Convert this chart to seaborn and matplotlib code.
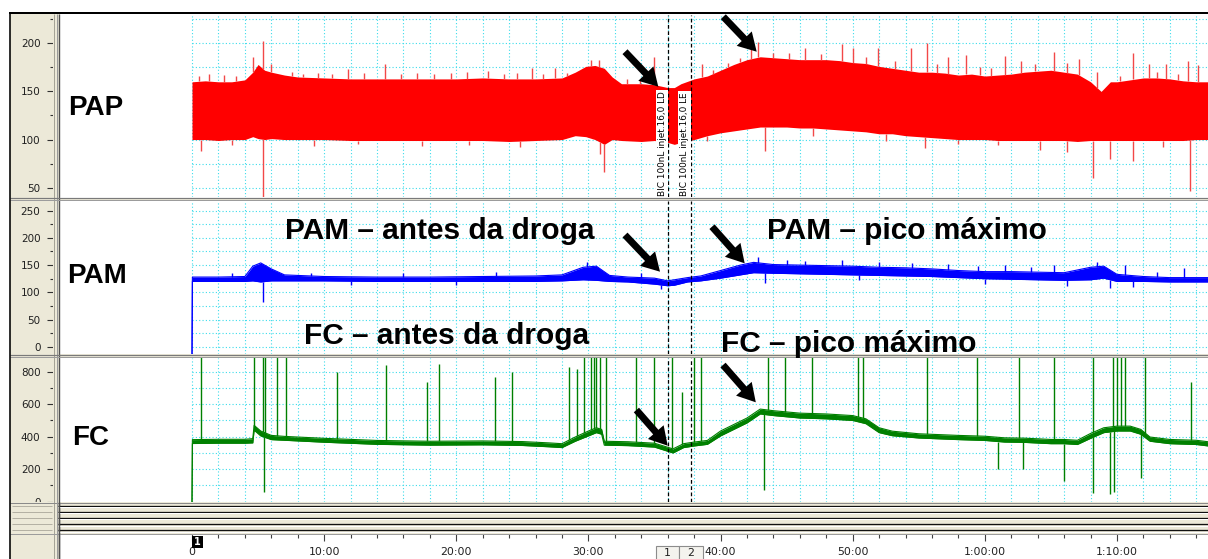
import numpy as np
import pandas as pd
import matplotlib
matplotlib.use("Agg")
import matplotlib.pyplot as plt
from matplotlib.patches import Rectangle, FancyArrowPatch, ArrowStyle
import seaborn as sns

sns.set_theme(style="white")
plt.rcParams["font.family"] = ["DejaVu Sans"]

# ---------------- recorded channels (time in minutes) ----------------
# PAP: pulsatile pressure, drawn as its envelope (min / max per moment)
pap_t = [0, 1, 2, 3, 4, 4.6, 5, 5.5, 6, 7, 8, 10, 12, 14, 16, 18, 20, 22, 24, 26,
         28, 29, 29.8, 30.5, 31.2, 31.8, 32.5, 34, 35, 36, 36.5, 37, 38, 39, 40, 41,
         42, 43, 44, 45, 46, 47, 48, 49, 50, 51, 52, 53, 54, 55, 56, 57, 58, 59, 60,
         61, 62, 63, 64, 65, 66, 67, 68, 68.8, 69.5, 70, 71, 72, 73, 74, 75, 76, 77]
pap_lo = [100, 100, 99, 100, 100, 103, 101, 100, 101, 100, 100, 100, 99, 99, 99, 99, 99, 99, 98, 99,
          100, 104, 103, 100, 95, 100, 99, 98, 99, 97, 95, 97, 100, 104, 107, 109,
          111, 113, 113, 113, 112, 112, 111, 110, 109, 108, 106, 106, 104, 103, 102, 101, 100, 100, 100,
          99, 99, 99, 99, 99, 99, 98, 99, 99, 99, 99, 99, 99, 99, 99, 99, 100, 100]
pap_hi = [160, 161, 160, 160, 162, 170, 178, 172, 170, 167, 165, 164, 163, 163, 163, 163, 163, 164, 163, 163,
          164, 170, 176, 177, 174, 165, 158, 158, 157, 154, 154, 158, 163, 166, 172, 178,
          183, 186, 185, 184, 183, 183, 183, 182, 180, 179, 176, 174, 172, 170, 170, 169, 167, 168, 166,
          167, 168, 170, 171, 172, 170, 168, 160, 150, 160, 160, 162, 164, 164, 163, 161, 160, 160]
pap_up_t = [0.5, 1.3, 2.4, 3.3, 4.6, 5.4, 6.0, 7.6, 8.4, 9.5, 10.6, 11.8, 13.0, 14.6, 15.8,
            17.0, 18.3, 19.6, 20.8, 22.4, 23.6, 24.6, 25.7, 26.6, 27.5, 28.4, 30.2, 30.8,
            32.9, 33.9, 35.0, 38.6, 39.4, 40.6, 41.5, 42.3, 42.8, 44.0, 45.2, 46.4, 47.6,
            49.2, 50.0, 51.0, 51.9, 53.2, 54.4, 55.6, 56.4, 57.2, 58.6, 59.6, 60.5, 61.5,
            62.7, 63.8, 65.2, 66.2, 67.1, 68.5, 70.2, 71.2, 72.4, 73.0, 73.7, 74.6, 75.4, 76.1]
pap_up_v = [166, 168, 167, 166, 186, 202, 178, 170, 168, 169, 168, 173, 169, 178, 168,
            169, 168, 169, 170, 171, 168, 169, 174, 168, 174, 169, 183, 183,
            163, 162, 186, 179, 172, 180, 185, 195, 201, 190, 190, 195, 189,
            199, 195, 186, 195, 182, 195, 200, 178, 186, 188, 175, 174, 187,
            182, 178, 191, 180, 184, 170, 166, 190, 179, 170, 179, 168, 182, 177]
pap_dn_t = [0.7, 3.0, 5.4, 9.2, 12.6, 17.4, 21.0, 24.8, 30.9, 31.2, 39.0, 43.4, 47.0,
            52.5, 55.5, 58.0, 61.0, 64.2, 66.2, 68.2, 69.5, 71.2, 73.5, 75.5]
pap_dn_v = [88, 94, 38, 93, 95, 93, 94, 92, 85, 66, 98, 88, 104,
            98, 91, 95, 94, 89, 87, 60, 80, 78, 92, 47]

# PAM: mean pressure
pam_t = [0, 0.03, 2, 4, 4.6, 5.2, 6, 7, 10, 14, 18, 22, 26, 28, 29.6, 30.6, 31.6, 33,
         35, 36, 36.5, 37.5, 38.5, 40, 41.5, 42.5, 44, 46, 48, 50, 52, 54, 56, 58, 60,
         62, 64, 66, 68, 69, 70, 72, 74, 76, 77]
pam_lo = [-20, 120, 120, 120, 121, 119, 121, 121, 121, 120, 120, 120, 120, 121, 123, 122, 120, 119,
          115, 112, 113, 119, 121, 126, 132, 136, 135, 134, 133, 132, 131, 130, 129, 127, 125,
          124, 123, 122, 123, 126, 120, 120, 119, 119, 119]
pam_hi = [-20, 128, 128, 129, 148, 154, 143, 132, 129, 128, 128, 129, 130, 132, 146, 148, 131, 128,
          126, 121, 123, 127, 130, 140, 150, 155, 151, 150, 149, 148, 146, 145, 143, 140, 138,
          138, 137, 136, 146, 148, 133, 129, 127, 127, 127]
pam_up_t = [3.0, 9.0, 16.0, 23.0, 29.9, 34.0, 42.8, 45.0, 46.4, 49.2, 52.0, 54.5, 57.2, 59.5,
            61.5, 63.5, 65.2, 68.5, 70.6, 73.0, 75.1]
pam_up_v = [136, 136, 136, 137, 156, 135, 165, 160, 158, 160, 156, 154, 152, 148,
            150, 147, 150, 156, 150, 138, 144]
pam_dn_t = [5.4, 12.0, 20.0, 35.5, 43.4, 50.5, 60.0, 66.2, 69.5, 71.2]
pam_dn_v = [83, 113, 113, 106, 118, 122, 116, 112, 108, 110]

# FC: heart rate
fc_t = [0, 0.03, 2, 4, 4.6, 4.7, 5.2, 6, 7, 10, 14, 18, 22, 25, 27, 28, 29, 30, 30.6, 31.0,
        31.2, 33, 35, 36.4, 37.2, 38, 39, 40, 41, 42, 43, 44, 46, 48, 50, 51, 52, 53, 55,
        58, 60, 61.5, 63, 65, 66, 67, 68, 69, 70, 71, 71.8, 72.5, 74, 76, 77]
fc_lo = [-10, 358, 360, 360, 362, 440, 405, 382, 378, 366, 353, 348, 350, 346, 338, 333, 372, 405, 425, 415,
         348, 345, 336, 300, 333, 343, 353, 405, 445, 485, 540, 530, 515, 510, 500, 480, 425, 406, 392,
         382, 377, 367, 365, 357, 357, 352, 390, 425, 435, 435, 415, 372, 357, 352, 342]
fc_hi = [-10, 382, 384, 384, 388, 470, 435, 408, 402, 390, 377, 372, 374, 370, 362, 357, 398, 435, 455, 445,
         372, 369, 360, 325, 357, 367, 377, 435, 475, 515, 570, 560, 545, 540, 530, 510, 455, 434, 418,
         408, 403, 393, 391, 383, 383, 378, 420, 455, 465, 465, 445, 398, 383, 378, 368]
fc_up_t = [0.7, 4.66, 5.4, 5.55, 6.4, 7.1, 11.0, 14.7, 17.8, 18.7, 22.9, 24.2, 28.5, 29.1,
           29.7, 30.2, 30.4, 30.6, 30.9, 31.3, 33.6, 35.0, 36.3, 37.1, 38.0, 38.5, 43.6,
           44.9, 46.9, 50.4, 50.8, 55.6, 59.4, 62.6, 65.2, 68.2, 69.7, 70.0, 70.3, 70.6,
           72.1, 75.6]
fc_up_v = [900, 900, 900, 900, 900, 900, 800, 840, 735, 850, 765, 800, 830, 815,
           900, 900, 900, 900, 900, 900, 900, 900, 900, 675, 900, 900, 900,
           900, 900, 900, 900, 900, 900, 900, 900, 900, 900, 900, 900, 900,
           900, 735]
fc_dn_t = [5.45, 43.3, 61.0, 62.9, 66.0, 68.2, 69.5, 69.8, 71.8]
fc_dn_v = [60, 75, 200, 200, 125, 55, 50, 60, 145]

# events and time scale
event_t = [36.05, 37.75]
event_labels = ["BIC 100nL injet.16,0 LD", "BIC 100nL injet.16,0 LE"]
time_ticks = [0, 10, 20, 30, 40, 50, 60, 70]
time_labels = ["0", "10:00", "20:00", "30:00", "40:00", "50:00", "1:00:00", "1:10:00"]

# ---------------- layout ----------------
W, H = 1208, 559
PX_PER_MIN = 13.214
T0_PX = 192
XL = ((52.5 - T0_PX) / PX_PER_MIN, (W - T0_PX) / PX_PER_MIN)
BEIGE = "#ECE9D8"
GRID = "#3CDCEB"
RED, BLUE, GREEN = "#FF0000", "#0000FF", "#008000"
BOLD = ["Liberation Sans", "DejaVu Sans"]


def box(x0, y0, x1, y1):
    return [x0 / W, 1 - y1 / H, (x1 - x0) / W, (y1 - y0) / H]


fig = plt.figure(figsize=(W / 100, H / 100), dpi=100, facecolor="white")

bg = fig.add_axes([0, 0, 1, 1], zorder=-1)
bg.set_xlim(0, W)
bg.set_ylim(H, 0)
bg.axis("off")
bg.add_patch(Rectangle((10, 14), 45, H - 14, facecolor=BEIGE, edgecolor="none"))

ax_pap = fig.add_axes(box(52.5, 15, W, 197.5))
ax_pam = fig.add_axes(box(52.5, 201, W, 354))
ax_fc = fig.add_axes(box(52.5, 358, W, 502))
ax_time = fig.add_axes(box(52.5, 534, W, 559))

panels = [
    (ax_pap, (39.8, 229.4), [50, 100, 150, 200], [75, 125, 175, 225], np.arange(50, 226, 25)),
    (ax_pam, (-13.4, 267.8), [0, 50, 100, 150, 200, 250], np.arange(25, 250, 50), np.arange(0, 251, 25)),
    (ax_fc, (-1.8, 884.3), [0, 200, 400, 600, 800], [100, 300, 500, 700], np.arange(0, 801, 100)),
]
for ax, yl, major, minor, hgrid in panels:
    ax.set_facecolor("white")
    ax.set_xlim(*XL)
    ax.set_ylim(*yl)
    for s in ax.spines.values():
        s.set_visible(False)
    ax.set_xticks([])
    ax.set_yticks(major)
    ax.set_yticks(minor, minor=True)
    ax.tick_params(axis="y", which="major", direction="out", length=4.2, width=0.8,
                   color="#303030", pad=4.5, labelsize=7.5, labelcolor="#202020", left=True)
    ax.tick_params(axis="y", which="minor", direction="out", length=2.2, width=0.8,
                   color="#303030", left=True)
    ax.vlines(np.arange(0, 77, 2), yl[0], yl[1], colors=GRID, lw=0.8,
              linestyles=(0, (1, 2)), zorder=0.5)
    ax.hlines(hgrid, 0, XL[1], colors=GRID, lw=0.8, linestyles=(0, (1, 2)), zorder=0.5)
    for t in event_t:
        ax.axvline(t, color="black", lw=0.9, ls=(0, (3, 2)), zorder=4)

# PAP envelope and isolated beats
ax_pap.fill_between(pap_t, pap_lo, pap_hi, color=RED, lw=0, zorder=2)
ax_pap.vlines(pap_up_t, np.interp(pap_up_t, pap_t, pap_hi), pap_up_v, color="#F24848", lw=1, zorder=2)
ax_pap.vlines(pap_dn_t, pap_dn_v, np.interp(pap_dn_t, pap_t, pap_lo), color="#F24848", lw=1, zorder=2)
for t, lab in zip(event_t, event_labels):
    ax_pap.text(t - 0.13, 41, lab, rotation=90, ha="right", va="bottom", fontsize=6.4,
                color="black", zorder=5,
                bbox=dict(facecolor="white", edgecolor="none", pad=1.2))

# PAM trace
pam = pd.DataFrame({"t": pam_t, "lo": pam_lo, "hi": pam_hi})
ax_pam.fill_between(pam["t"], pam["lo"], pam["hi"], color=BLUE, lw=0, zorder=2)
sns.lineplot(data=pam, x="t", y="lo", ax=ax_pam, color=BLUE, lw=0.8, legend=False, zorder=2)
sns.lineplot(data=pam, x="t", y="hi", ax=ax_pam, color=BLUE, lw=0.8, legend=False, zorder=2)
ax_pam.vlines(pam_up_t, np.interp(pam_up_t, pam_t, pam_hi), pam_up_v, color=BLUE, lw=1, zorder=2)
ax_pam.vlines(pam_dn_t, pam_dn_v, np.interp(pam_dn_t, pam_t, pam_lo), color=BLUE, lw=1, zorder=2)

# FC trace
fc = pd.DataFrame({"t": fc_t, "lo": fc_lo, "hi": fc_hi})
ax_fc.fill_between(fc["t"], fc["lo"], fc["hi"], color=GREEN, lw=0, zorder=2)
sns.lineplot(data=fc, x="t", y="lo", ax=ax_fc, color=GREEN, lw=0.8, legend=False, zorder=2)
sns.lineplot(data=fc, x="t", y="hi", ax=ax_fc, color=GREEN, lw=0.8, legend=False, zorder=2)
ax_fc.vlines(fc_up_t, np.interp(fc_up_t, fc_t, fc_hi), fc_up_v, color=GREEN, lw=1, zorder=2)
ax_fc.vlines(fc_dn_t, fc_dn_v, np.interp(fc_dn_t, fc_t, fc_lo), color=GREEN, lw=1, zorder=2)
for ax in (ax_pap, ax_pam, ax_fc):
    ax.set_xlabel("")
    ax.set_ylabel("")

# time scale
ax_time.set_facecolor("white")
ax_time.set_xlim(*XL)
ax_time.set_ylim(0, 1)
for s in ax_time.spines.values():
    s.set_visible(False)
ax_time.set_yticks([])
ax_time.set_xticks(time_ticks)
ax_time.set_xticks(np.arange(0, 77, 2), minor=True)
ax_time.tick_params(axis="x", which="both", top=True, bottom=False, labeltop=False,
                    labelbottom=False, direction="in", color="#404040", width=0.8)
ax_time.tick_params(axis="x", which="major", length=5.2)
ax_time.tick_params(axis="x", which="minor", length=2.6)
for t, lab in zip(time_ticks, time_labels):
    ax_time.text(t, 0.47, lab, ha="center", va="top", fontsize=7.8, color="#202020")

# ---------------- frame, separators, notes ----------------
ov = fig.add_axes([0, 0, 1, 1], zorder=10)
ov.set_xlim(0, W)
ov.set_ylim(H, 0)
ov.axis("off")
ov.patch.set_visible(False)


def hl(y, x0, x1, color, px=1.0):
    ov.plot([x0, x1], [y, y], color=color, lw=px * 0.72, solid_capstyle="butt")


def vl(x, y0, y1, color, px=1.0):
    ov.plot([x, x], [y0, y1], color=color, lw=px * 0.72, solid_capstyle="butt")


# gutter divider
ov.add_patch(Rectangle((53, 14), 7, H - 14, facecolor=BEIGE, edgecolor="none"))
vl(53.5, 14, H, "#A5A396")
vl(56.6, 14, H, "#9A9A9A")
vl(58.6, 14, H, "#505050", 1.4)

# separators between channels
for y0, y1 in [(197.5, 201), (354, 358)]:
    ov.add_patch(Rectangle((10, y0), W - 10, y1 - y0, facecolor=BEIGE, edgecolor="none"))
    hl(y0 + 0.5, 10, W, "#7A7A7A", 1.2)
    hl(y1 - 0.6, 10, W, "#9C9C9C", 1.0)

# collapsed channels
ov.add_patch(Rectangle((10, 502), W - 10, 32, facecolor=BEIGE, edgecolor="none"))
for y in [505.5, 511.5, 517.5, 524, 530]:
    hl(y, 58, W, "#111111", 1.3)
    hl(y + 1.6, 58, W, "white", 1.0)
    hl(y, 12, 52, "#B4B1A4", 1.0)
hl(502.5, 10, W, "#8A8A8A", 1.0)
hl(533.5, 10, W, "#9C9C9C", 1.0)
vl(56.6, 502, H, "#9A9A9A")
vl(58.6, 502, H, "#505050", 1.4)

# outer frame
hl(13, 9, W, "black", 2.0)
vl(9.6, 13, H, "black", 1.6)

# block marker and comment boxes on the time scale
ov.add_patch(Rectangle((191.7, 535.7), 11.6, 12, facecolor="black", edgecolor="none"))
ov.text(197.5, 541.7, "1", color="white", fontsize=7, fontweight="bold", ha="center", va="center")
for x0, x1, lab in [(656, 679, "1"), (679, 703, "2")]:
    ov.add_patch(Rectangle((x0, 546), x1 - x0, 16, facecolor="#F4F3EE", edgecolor="#8C8C8C", lw=0.8))
    ov.text((x0 + x1) / 2, 547.5, lab, fontsize=7.8, ha="center", va="top", color="#202020")

# channel names and notes
for x, y, s, fs in [(68, 115, "PAP", 20), (66.7, 283, "PAM", 20), (71.7, 445, "FC", 20),
                    (285, 239, "PAM \u2013 antes da droga", 21.5),
                    (767, 239, "PAM \u2013 pico m\u00e1ximo", 21.5),
                    (304, 344, "FC \u2013 antes da droga", 21.5),
                    (721, 352, "FC \u2013 pico m\u00e1ximo", 21.5)]:
    ov.text(x, y, s, fontsize=fs, fontweight="bold", family=BOLD, ha="left",
            va="baseline", color="black")

arrow_style = ArrowStyle.Simple(head_length=13, head_width=15, tail_width=5)
for (x0, y0), (x1, y1) in [((625, 51.7), (658.3, 86.7)), ((723.3, 16.7), (756.7, 51.7)),
                           ((625, 235), (660, 271.7)), ((712, 226.7), (744.7, 263.3)),
                           ((636.4, 410), (667.7, 445.7)), ((723, 365), (755.8, 402.3))]:
    ov.add_patch(FancyArrowPatch((x0, y0), (x1, y1), arrowstyle=arrow_style, mutation_scale=1,
                                 color="black", shrinkA=0, shrinkB=0, lw=0))

fig.savefig("out.png", dpi=100, facecolor="white")
